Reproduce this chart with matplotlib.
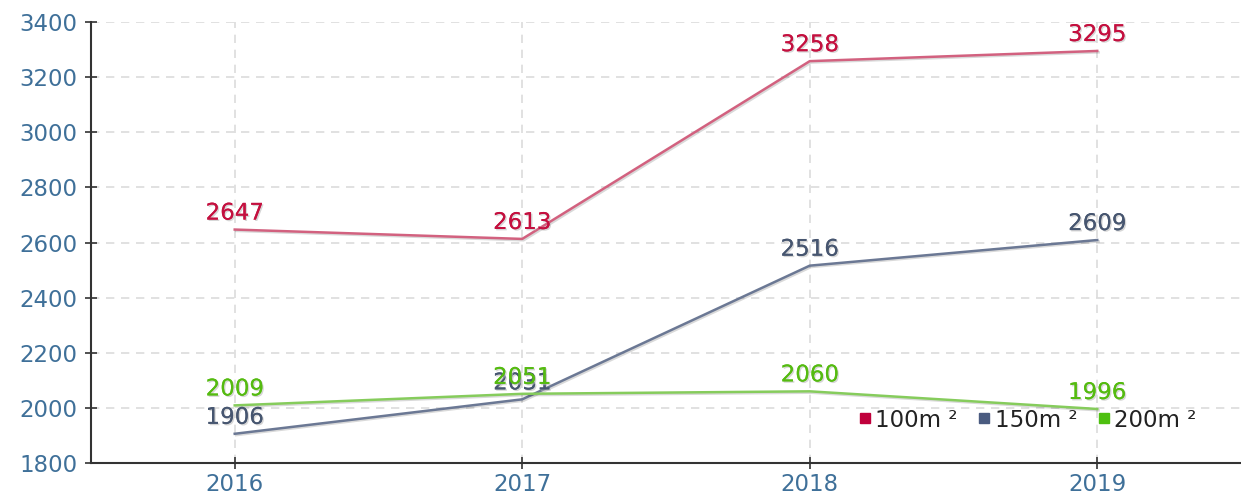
import matplotlib.pyplot as plt
import matplotlib.patheffects as pe
from matplotlib.lines import Line2D

years = ["2016", "2017", "2018", "2019"]
series_names = ["100m ²", "150m ²", "200m ²"]
v100 = [2647, 2613, 3258, 3295]
v150 = [1906, 2031, 2516, 2609]
v200 = [2009, 2051, 2060, 1996]

line_colors = ["#d2617f", "#6b7894", "#86cc5c"]
label_colors = ["#c4103f", "#475670", "#55bb11"]
legend_colors = ["#c0003c", "#4a5b80", "#4ec010"]
tick_color = "#3f7099"

fig = plt.figure(figsize=(12.41, 4.98), dpi=100)
ax = fig.add_axes([0.0733, 0.0703, 0.9267, 0.8855])

x = list(range(len(years)))
shadow = [pe.withSimplePatchShadow(offset=(1, -1), shadow_rgbFace="#bbbbbb", alpha=0.6), pe.Normal()]

for vals, lc, tc in zip([v100, v150, v200], line_colors, label_colors):
    ax.plot(x, vals, color=lc, lw=1.8, zorder=3,
            path_effects=[pe.SimpleLineShadow(offset=(1, -1), alpha=0.15), pe.Normal()])
    for xi, v in zip(x, vals):
        ax.text(xi, v + 18, str(v), color=tc, fontsize=16.5, ha="center", va="bottom",
                zorder=4, path_effects=shadow)

ax.set_xlim(-0.5, 3.5)
ax.set_ylim(1800, 3400)
ax.set_yticks(range(1800, 3401, 200))
ax.set_xticks(x)
ax.set_xticklabels(years)
ax.tick_params(axis="both", colors="#333333", labelcolor=tick_color, labelsize=16.5, width=1.2)
ax.tick_params(axis="y", direction="inout", length=8, pad=6)
ax.tick_params(axis="x", direction="inout", length=8, pad=3)

ax.grid(True, color="#dcdcdc", linestyle=(0, (5, 4)), lw=1.2)
ax.set_axisbelow(True)
for s in ["top", "right"]:
    ax.spines[s].set_visible(False)
ax.spines["left"].set_color("#333333")
ax.spines["bottom"].set_color("#333333")
ax.spines["left"].set_linewidth(1.5)
ax.spines["bottom"].set_linewidth(1.5)

handles = [Line2D([], [], marker="s", ls="", color=c, markersize=7) for c in legend_colors]
leg = ax.legend(handles, series_names, loc="lower right", bbox_to_anchor=(0.975, 0.035), ncol=3,
                frameon=False, fontsize=16.5, handletextpad=0.0, columnspacing=0.7,
                handlelength=0.9, borderpad=0.2)
for t in leg.get_texts():
    t.set_color("#222222")

fig.savefig("out.png", dpi=100)
